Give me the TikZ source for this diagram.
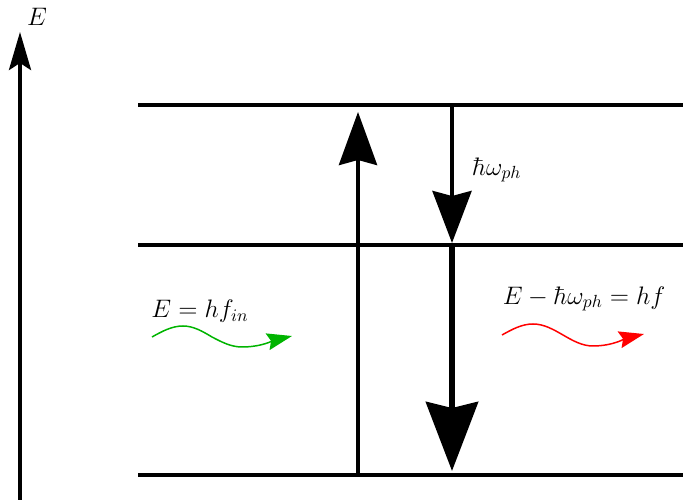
\documentclass[tikz,border=0pt]{standalone}
\usetikzlibrary{arrows.meta}
\definecolor{photongreen}{RGB}{0,180,0}
\tikzset{
    level/.style={line width=2.3pt},
    photon/.style={line width=0.85pt,-{Stealth[length=0.5cm,width=0.34cm,inset=0.07cm]}},
    lbl/.style={font=\fontsize{14.5}{17}\selectfont}
}

\begin{document}
\begin{tikzpicture}[x=0.02cm,y=-0.02cm]
    \useasboundingbox (0,0) rectangle (683,502);

    % energy axis
    \coordinate (axisbot) at (20,500);
    \coordinate (axistop) at (20,32);
    \draw[level,-{Stealth[length=0.76cm,width=0.44cm,inset=0.14cm]}] (axisbot) -- (axistop);
    \node[lbl] (elabel) at (37,17) {$E$};

    % levels
    \coordinate (topL) at (138,105);  \coordinate (topR) at (683,105);
    \coordinate (midL) at (138,245);  \coordinate (midR) at (683,245);
    \coordinate (botL) at (138,475);  \coordinate (botR) at (683,475);
    \draw[level] (topL) -- (topR);
    \draw[level] (midL) -- (midR);
    \draw[level] (botL) -- (botR);

    % transitions
    \coordinate (upA) at (358,475);   \coordinate (upB) at (358,112);
    \coordinate (dnA) at (452,105);   \coordinate (dnB) at (452,243);
    \coordinate (dnC) at (452,245);   \coordinate (dnD) at (452,471);
    \draw[level,-{Stealth[length=1.06cm,width=0.76cm,inset=0.1cm]}] (upA) -- (upB);
    \draw[level,-{Stealth[length=1.04cm,width=0.78cm,inset=0.1cm]}] (dnA) -- (dnB);
    \draw[line width=3.4pt,-{Stealth[length=1.38cm,width=1.04cm,inset=0.12cm]}] (dnC) -- (dnD);
    \node[lbl,right] (phonon) at (466,170) {$\hbar\omega_{ph}$};

    % photons
    \node[lbl] (inlabel) at (200,311) {$E=hf_{in}$};
    \coordinate (inA) at (152,337);   \coordinate (inB) at (292,336);
    \draw[photon,photongreen] (inA) sin (183,326) cos (212,337) sin (242,347)
        .. controls (262,347) and (275,340) .. (inB);

    \node[lbl] (outlabel) at (584,299) {$E-\hbar\omega_{ph}=hf$};
    \coordinate (outA) at (502,335);  \coordinate (outB) at (644,334);
    \draw[photon,red] (outA) sin (533,324) cos (563,335) sin (593,346)
        .. controls (613,346) and (627,338) .. (outB);
\end{tikzpicture}
\end{document}
